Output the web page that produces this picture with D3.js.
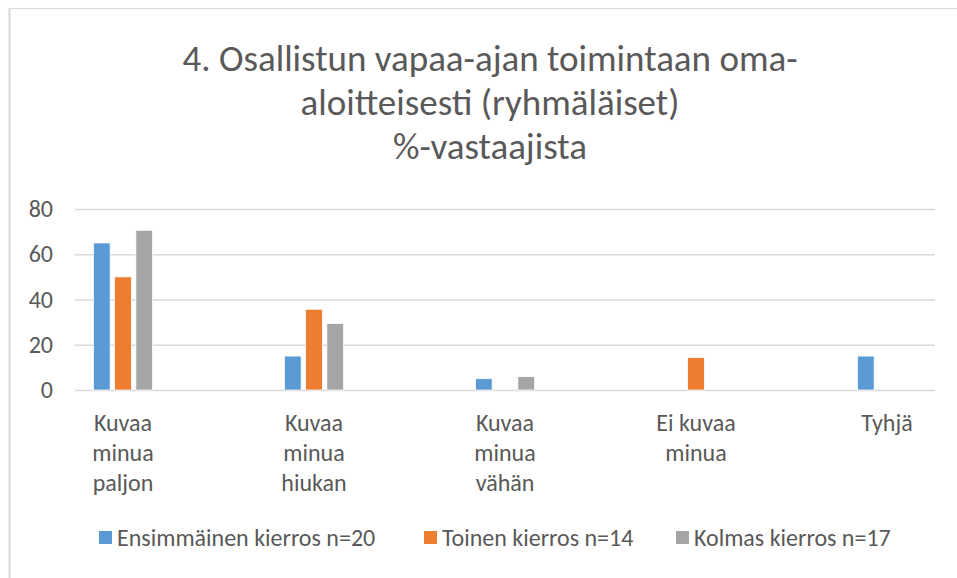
<!DOCTYPE html>
<html lang="fi">
<head>
<meta charset="utf-8">
<title>Osallistun vapaa-ajan toimintaan</title>
<script src="https://cdnjs.cloudflare.com/ajax/libs/d3/7.8.5/d3.min.js"></script>
<style>
  body { margin: 0; background: #fff; }
  svg { font-family: Carlito, "Open Sans", sans-serif; }
</style>
</head>
<body>
<svg width="957" height="578"></svg>
<script>
    const titleLines = ["4. Osallistun vapaa-ajan toimintaan oma-", "aloitteisesti (ryhmäläiset)", "%-vastaajista"];
    const categories = ["Kuvaa minua paljon", "Kuvaa minua hiukan", "Kuvaa minua vähän", "Ei kuvaa minua", "Tyhjä"];
    const categoryLines = [["Kuvaa", "minua", "paljon"], ["Kuvaa", "minua", "hiukan"], ["Kuvaa", "minua", "vähän"], ["Ei kuvaa", "minua"], ["Tyhjä"]];
    const seriesNames = ["Ensimmäinen kierros n=20", "Toinen kierros n=14", "Kolmas kierros n=17"];
    const ensimmainen = [65, 15, 5, 0, 15];
    const toinen = [50, 35.7, 0, 14.3, 0];
    const kolmas = [70.6, 29.4, 5.9, 0, 0];
    const yTicks = [0, 20, 40, 60, 80];
    const colors = ["#5b9bd5", "#ed7d31", "#a5a5a5"];

    const seriesValues = [ensimmainen, toinen, kolmas];
    const textColor = "#595959";

    let svg = d3.select("svg");

    // chart frame (cropped on right and bottom)
    svg.append("line").attr("x1", 9).attr("x2", 957).attr("y1", 8.5).attr("y2", 8.5)
        .attr("stroke", "#d9d9d9").attr("stroke-width", 1);
    svg.append("line").attr("x1", 9.5).attr("x2", 9.5).attr("y1", 8).attr("y2", 578)
        .attr("stroke", "#d9d9d9").attr("stroke-width", 2);

    // title
    svg.append("text")
        .attr("text-anchor", "middle")
        .attr("fill", textColor)
        .style("font-size", "37px")
        .selectAll("tspan")
        .data(titleLines)
        .join("tspan")
        .attr("x", 490)
        .attr("y", (d, i) => 71 + i * 44)
        .text(d => d);

    let plotLeft = 75, plotRight = 935;

    let y = d3.scaleLinear().domain([0, 80]).range([390, 209]);

    let x0 = d3.scaleBand().domain(categories).range([27.5, 982.5]);

    let x1 = d3.scaleBand().domain(seriesNames).range([0, 59.2]).paddingInner(0.212);

    // gridlines + y labels
    let yAxis = svg.append("g")
        .attr("transform", "translate(" + plotLeft + ",0)")
        .call(d3.axisLeft(y).tickValues(yTicks).tickSize(-(plotRight - plotLeft)).tickPadding(22));
    yAxis.select(".domain").remove();
    yAxis.selectAll(".tick line").attr("stroke", "#d9d9d9").attr("stroke-width", 1.5);
    yAxis.selectAll(".tick text")
        .attr("fill", textColor)
        .style("font-size", "24px")
        .style("font-family", "Carlito, 'Open Sans', sans-serif");

    // bars
    let groups = svg.append("g")
        .selectAll("g")
        .data(categories)
        .join("g")
        .attr("transform", c => "translate(" + (x0(c) + x0.bandwidth() / 2 - 29.6) + ",0)");

    groups.selectAll("rect")
        .data((c, ci) => seriesNames.map((s, si) => ({ s: s, si: si, v: seriesValues[si][ci] })))
        .join("rect")
        .filter(d => d.v > 0)
        .attr("x", d => x1(d.s))
        .attr("y", d => y(d.v))
        .attr("width", x1.bandwidth())
        .attr("height", d => y(0) - y(d.v))
        .attr("fill", d => colors[d.si])
        .attr("stroke", "#fff")
        .attr("stroke-width", 0.75);

    // category labels
    let xAxis = svg.append("g")
        .attr("transform", "translate(0,390)")
        .call(d3.axisBottom(x0).tickSize(0).tickFormat(""));
    xAxis.select(".domain").remove();
    xAxis.selectAll(".tick text").remove();
    xAxis.selectAll(".tick")
        .append("text")
        .attr("text-anchor", "middle")
        .attr("fill", textColor)
        .style("font-size", "24px")
        .style("font-family", "Carlito, 'Open Sans', sans-serif")
        .each(function (c, i) {
            d3.select(this).selectAll("tspan")
                .data(categoryLines[i])
                .join("tspan")
                .attr("x", 0)
                .attr("y", (d, j) => 41 + j * 30)
                .text(d => d);
        });

    // legend
    let legendX = [99, 424, 676];
    let legend = svg.append("g")
        .selectAll("g")
        .data(seriesNames)
        .join("g")
        .attr("transform", (d, i) => "translate(" + legendX[i] + ",531)");
    legend.append("rect")
        .attr("width", 13).attr("height", 13)
        .attr("fill", (d, i) => colors[i]);
    legend.append("text")
        .attr("x", 18)
        .attr("y", 15)
        .attr("fill", textColor)
        .style("font-size", "24px")
        .text(d => d);
</script>
</body>
</html>
